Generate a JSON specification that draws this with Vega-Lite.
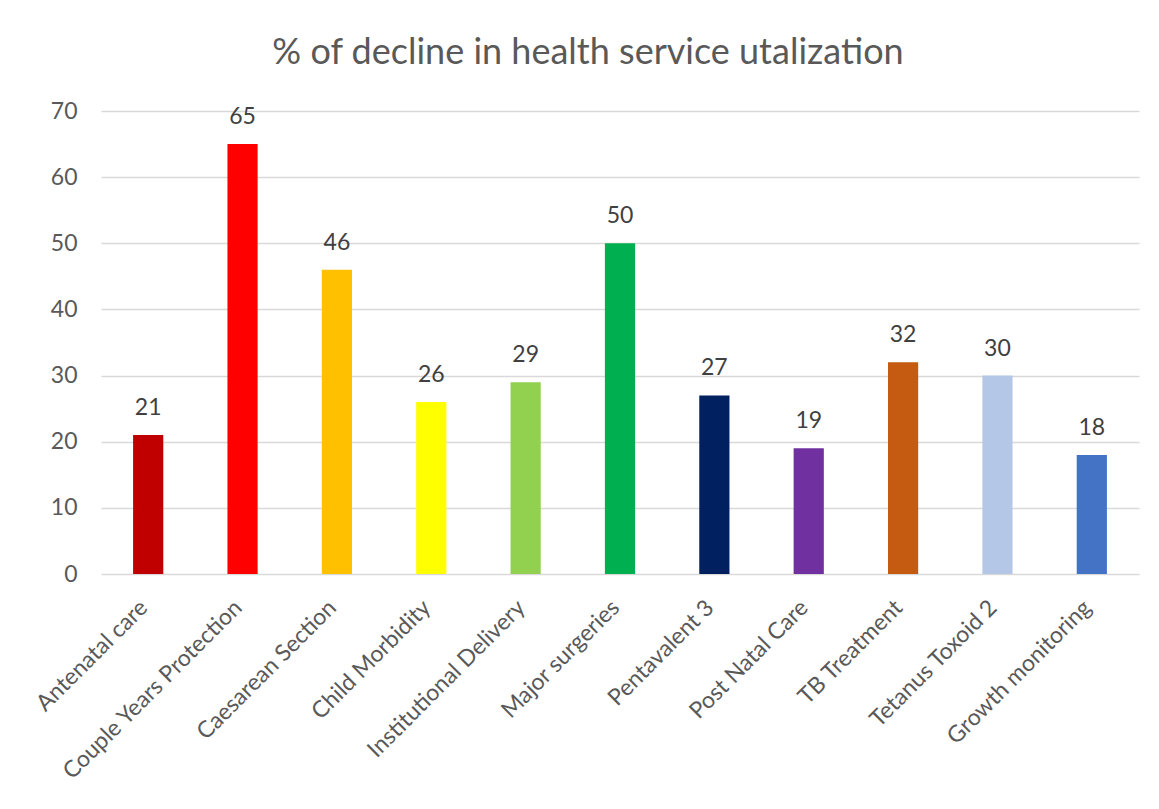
{
  "$schema": "https://vega.github.io/schema/vega-lite/v6.json",
  "autosize": "none",
  "width": 1038,
  "height": 463,
  "padding": {"left": 101, "top": 111, "right": 20, "bottom": 235},
  "background": "#ffffff",
  "config": {
    "font": "Lato",
    "view": {"stroke": null}
  },
  "title": {
    "text": "% of decline in health service utalization",
    "font": "Lato",
    "fontSize": 36,
    "fontWeight": "normal",
    "color": "#595959",
    "anchor": "middle",
    "frame": "group",
    "dx": -32,
    "offset": 28
  },
  "data": {
    "values": [
      {"service": "Antenatal care", "value": 21},
      {"service": "Couple Years Protection", "value": 65},
      {"service": "Caesarean Section", "value": 46},
      {"service": "Child Morbidity", "value": 26},
      {"service": "Institutional Delivery", "value": 29},
      {"service": "Major surgeries", "value": 50},
      {"service": "Pentavalent 3", "value": 27},
      {"service": "Post Natal Care", "value": 19},
      {"service": "TB Treatment", "value": 32},
      {"service": "Tetanus Toxoid 2", "value": 30},
      {"service": "Growth monitoring", "value": 18}
    ]
  },
  "encoding": {
    "x": {
      "field": "service",
      "type": "nominal",
      "sort": null,
      "title": null,
      "scale": {"paddingInner": 0.68, "paddingOuter": 0.34},
      "axis": {
        "labelAngle": -45,
        "labelAlign": "right",
        "labelBaseline": "top",
        "labelFontSize": 23,
        "labelColor": "#595959",
        "labelFont": "Lato",
        "ticks": false,
        "domain": false,
        "labelPadding": 22,
        "labelOffset": -12,
        "labelLimit": 400
      }
    },
    "y": {
      "field": "value",
      "type": "quantitative",
      "title": null,
      "scale": {"domain": [0, 70], "nice": false},
      "axis": {
        "values": [0, 10, 20, 30, 40, 50, 60, 70],
        "labelFontSize": 23,
        "labelColor": "#595959",
        "labelFont": "Lato",
        "ticks": false,
        "domain": false,
        "labelPadding": 24,
        "gridColor": "#d9d9d9",
        "gridWidth": 1.5
      }
    }
  },
  "layer": [
    {
      "mark": {"type": "bar"},
      "encoding": {
        "color": {
          "field": "service",
          "type": "nominal",
          "legend": null,
          "scale": {
            "domain": ["Antenatal care", "Couple Years Protection", "Caesarean Section", "Child Morbidity", "Institutional Delivery", "Major surgeries", "Pentavalent 3", "Post Natal Care", "TB Treatment", "Tetanus Toxoid 2", "Growth monitoring"],
            "range": ["#c00000", "#ff0000", "#ffc000", "#ffff00", "#92d050", "#00b050", "#002060", "#7030a0", "#c55a11", "#b4c7e7", "#4472c4"]
          }
        }
      }
    },
    {
      "mark": {"type": "text", "baseline": "alphabetic", "dy": -20, "fontSize": 23, "color": "#404040", "font": "Lato"},
      "encoding": {
        "text": {"field": "value", "type": "quantitative"}
      }
    }
  ]
}
